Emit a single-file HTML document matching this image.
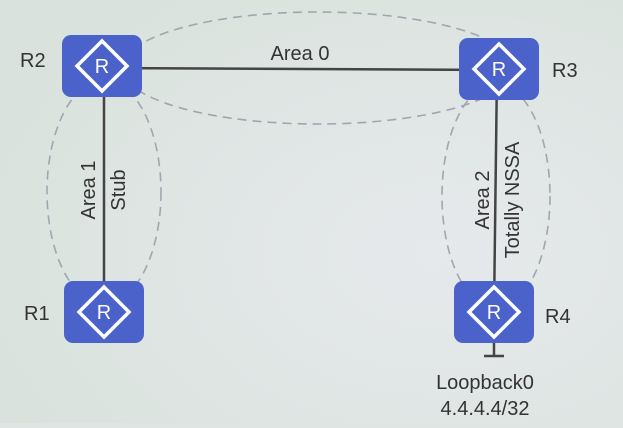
<!DOCTYPE html>
<html><head><style>
html,body{margin:0;padding:0}
body{width:623px;height:423px;overflow:hidden;background:#dfe5e3;font-family:"Liberation Sans",sans-serif}
</style></head><body>
<svg width="623" height="423" viewBox="0 0 623 423" xmlns="http://www.w3.org/2000/svg">
<defs>
<radialGradient id="bg" cx="0.7" cy="0.6" r="0.8">
<stop offset="0" stop-color="#e6e9ec"/><stop offset="1" stop-color="#d9e2dc"/>
</radialGradient>
<g id="rt">
<rect x="-40" y="-31" width="80" height="62" rx="9" fill="#4a62c9"/>
<polygon points="0,-25 25,0 0,25 -25,0" fill="none" stroke="#fff" stroke-width="3.5"/>
<text x="0" y="7" font-size="20" fill="#fff" text-anchor="middle">R</text>
</g>
</defs>
<rect width="623" height="423" fill="url(#bg)"/>
<g fill="none" stroke="#a0a6b0" stroke-width="1.6" stroke-dasharray="9,6">
<ellipse cx="318" cy="68" rx="196" ry="56"/>
<ellipse cx="104" cy="192" rx="57" ry="112"/>
<ellipse cx="496" cy="196" rx="54" ry="112"/>
</g>
<g stroke="#444" stroke-width="2.5">
<line x1="102" y1="68" x2="498" y2="70"/>
<line x1="104" y1="68" x2="104" y2="312"/>
<line x1="497" y1="70" x2="494" y2="312"/>
<line x1="494" y1="312" x2="494" y2="356"/>
<line x1="484" y1="356" x2="504" y2="356"/>
</g>
<use href="#rt" x="102" y="66"/>
<use href="#rt" x="499" y="69"/>
<use href="#rt" x="104" y="312"/>
<use href="#rt" x="494" y="312"/>
<g font-size="20" fill="#333">
<text x="300" y="60" text-anchor="middle">Area 0</text>
<text x="20" y="67">R2</text>
<text x="552" y="77">R3</text>
<text x="24" y="320">R1</text>
<text x="545" y="323">R4</text>
<text x="485" y="389" text-anchor="middle">Loopback0</text>
<text x="485" y="415" text-anchor="middle">4.4.4.4/32</text>
<text transform="translate(95,190) rotate(-90)" text-anchor="middle">Area 1</text>
<text transform="translate(125,190) rotate(-90)" text-anchor="middle">Stub</text>
<text transform="translate(489,200) rotate(-90)" text-anchor="middle">Area 2</text>
<text transform="translate(519,200) rotate(-90)" text-anchor="middle">Totally NSSA</text>
</g>
</svg>
</body></html>
